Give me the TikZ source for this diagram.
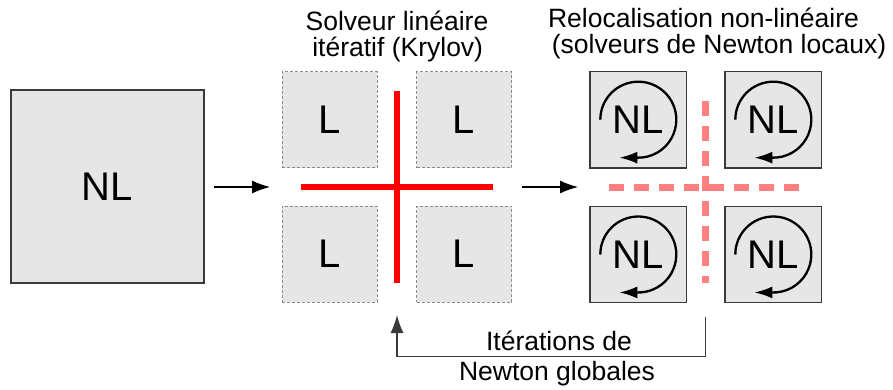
\documentclass[tikz,border=0pt]{standalone}
\usepackage{fontspec}
\setmainfont{Liberation Sans}
\usetikzlibrary{arrows.meta}
\definecolor{boxfill}{HTML}{E6E6E6}
\definecolor{boxline}{HTML}{3A3A3A}
\definecolor{dashline}{HTML}{8C8C8C}
\definecolor{pinkline}{HTML}{FF8080}
\tikzset{
  bigfont/.style={font=\fontsize{40}{48}\selectfont},
  lblfont/.style={font=\fontsize{26.5}{30}\selectfont},
  nlbox/.style={draw=boxline, line width=1.4pt, fill=boxfill, inner sep=0pt, bigfont},
  lbox/.style={draw=dashline, line width=0.9pt, dash pattern=on 3pt off 2pt, fill=boxfill, inner sep=0pt, minimum width=95pt, minimum height=96pt, bigfont},
  smallnl/.style={nlbox, minimum width=96.5pt, minimum height=96.5pt},
  conn/.style={line width=1.1pt, draw=black, -{Latex[length=18pt,width=13pt]}},
  fb/.style={line width=1.3pt, draw=boxline},
  redline/.style={line width=6pt, draw=red},
  pinkdash/.style={line width=7pt, draw=pinkline, dash pattern=on 15pt off 10pt},
  circarrow/.style={line width=2.3pt, draw=black, -{Latex[length=18pt,width=12pt]}},
  title/.style={lblfont, inner sep=0pt, anchor=base},
  topline/.style={title, text depth=0pt},
  lowline/.style={title, text height=19.5pt}
}
\begin{document}
\begin{tikzpicture}[x=1pt,y=-1pt]
\useasboundingbox (0,0) rectangle (893,389);

% big box
\node[nlbox, minimum width=193pt, minimum height=193pt] (big) at (107.5,186.5) {NL};

% linear boxes
\node[lbox] (L1) at (329.5,119.5) {L};
\node[lbox] (L2) at (464,119.5) {L};
\node[lbox] (L3) at (329.5,254) {L};
\node[lbox] (L4) at (464,254) {L};

% red cross
\coordinate (rT) at (397,91);
\coordinate (rB) at (397,283);
\coordinate (rL) at (300.7,187);
\coordinate (rR) at (493,187);
\draw[redline] (rT) -- (rB);
\draw[redline] (rL) -- (rR);

% nonlinear boxes
\node[smallnl] (N1) at (638.3,119.7) {NL};
\node[smallnl] (N2) at (773.3,119.7) {NL};
\node[smallnl] (N3) at (638.3,254.5) {NL};
\node[smallnl] (N4) at (773.3,254.5) {NL};

% pink dashed cross
\coordinate (pT) at (705.7,93);
\coordinate (pB) at (705.7,283);
\coordinate (pL) at (609,187);
\coordinate (pR) at (800,187);
\draw[pinkdash, dash phase=17pt] (pT) -- (pB);
\draw[pinkdash] (pL) -- (pR);

% circular arrows
\foreach \n in {N1,N2,N3,N4}{
  \draw[circarrow] ([shift={(-38,0)}]\n.center) arc[start angle=-180, end angle=93, radius=38] -- ++(-17,0);
}

% connectors
\coordinate (a1e) at (270,187);
\draw[conn, shorten <=9pt] (big.east |- a1e) -- (a1e);
\coordinate (a2s) at (522,187);
\coordinate (a2e) at (578,187);
\draw[conn] (a2s) -- (a2e);

% feedback loop
\coordinate (fbs) at (705.5,316.5);
\coordinate (fbc) at (397,356.5);
\coordinate (fbe) at (397,315);
\draw[fb, -{Latex[length=18pt,width=13pt]}] (fbs) |- (fbc) -- (fbe);

% labels
\node[topline] (t1a) at (397,30.7) {Solveur linéaire};
\node[lowline] (t1b) at (397.7,56) {itératif (Krylov)};
\node[topline] (t2a) at (703.5,27.5) {Relocalisation non-linéaire};
\node[lowline] (t2b) at (719,53.3) {(solveurs de Newton locaux)};
\node[topline] (b1) at (559,350.5) {Itérations de};
\node[lowline] (b2) at (557,380) {Newton globales};
\end{tikzpicture}
\end{document}
